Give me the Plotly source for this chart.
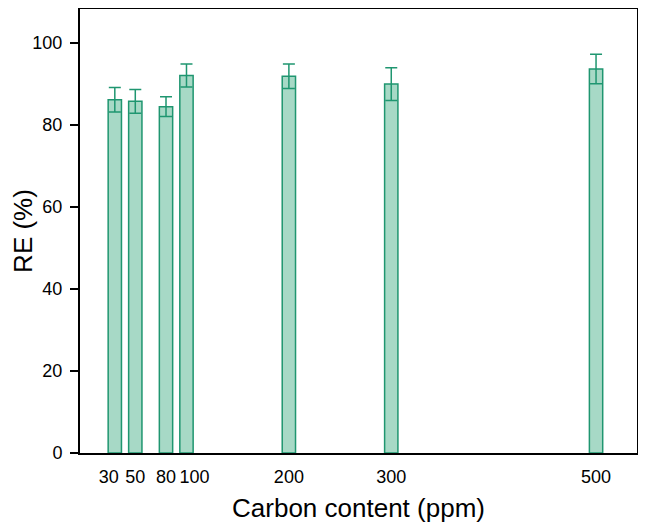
import plotly.graph_objects as go

# carbon content (ppm) and removal efficiency (%)
carbon = [30, 50, 80, 100, 200, 300, 500]
re_mean = [86.1, 85.7, 84.4, 92.0, 91.8, 89.9, 93.6]
re_err = [3.0, 2.9, 2.4, 2.8, 3.0, 4.0, 3.6]
# the crowded labels at 30 and 100 sit a little off-centre, as in the source
tick_main = [50, 80, 200, 300, 500]
tick_left = [30]
tick_right = [100]

x_range = [-4, 540]

fig = go.Figure()
fig.add_trace(go.Bar(x=carbon, y=re_mean,
                     width=13,
                     marker=dict(color="#a7d9c6",
                                 line=dict(color="#1f9670", width=1.5)),
                     error_y=dict(type="data", array=re_err, visible=True,
                                  color="#1f9670", thickness=1.5, width=6),
                     showlegend=False))
# empty traces so the two label-only axes get drawn
for ax in ["x2", "x3"]:
    fig.add_trace(go.Scatter(x=[], y=[], xaxis=ax, yaxis="y",
                             showlegend=False, hoverinfo="skip"))

# page body adds an 8px margin, so the figure is sized to fit inside it
fig.update_layout(
    width=630, height=515,
    margin=dict(l=72, r=1, t=1, b=70),
    plot_bgcolor="white", paper_bgcolor="white",
    font=dict(family="Liberation Sans, Arial", color="black", size=18),
)
tick_style = dict(range=x_range, automargin=False, tickmode="array",
                  tickangle=0, ticklabelstandoff=6, ticks="",
                  showgrid=False, zeroline=False, tickfont=dict(size=18),
                  showline=True, linecolor="black", linewidth=2)
fig.update_xaxes(tickvals=tick_main, ticktext=[str(v) for v in tick_main],
                 mirror=True,
                 title=dict(text="Carbon content (ppm)", font=dict(size=26),
                            standoff=18),
                 **tick_style)
fig.update_layout(
    xaxis2=dict(overlaying="x", anchor="y", side="bottom",
                tickvals=tick_left, ticktext=[str(v) for v in tick_left],
                ticklabelshift=-6, **tick_style),
    xaxis3=dict(overlaying="x", anchor="y", side="bottom",
                tickvals=tick_right, ticktext=[str(v) for v in tick_right],
                ticklabelshift=8, **tick_style),
)
fig.update_yaxes(range=[0, 108.2], automargin=False,
                 tickvals=[0, 20, 40, 60, 80, 100],
                 ticks="outside", ticklen=8, tickwidth=2, tickcolor="black",
                 ticklabelstandoff=4,
                 showgrid=False, zeroline=False,
                 showline=True, linecolor="black", linewidth=2, mirror=True,
                 tickfont=dict(size=18),
                 title=dict(text="RE (%)", font=dict(size=26), standoff=14))

fig.write_html("out.html")
